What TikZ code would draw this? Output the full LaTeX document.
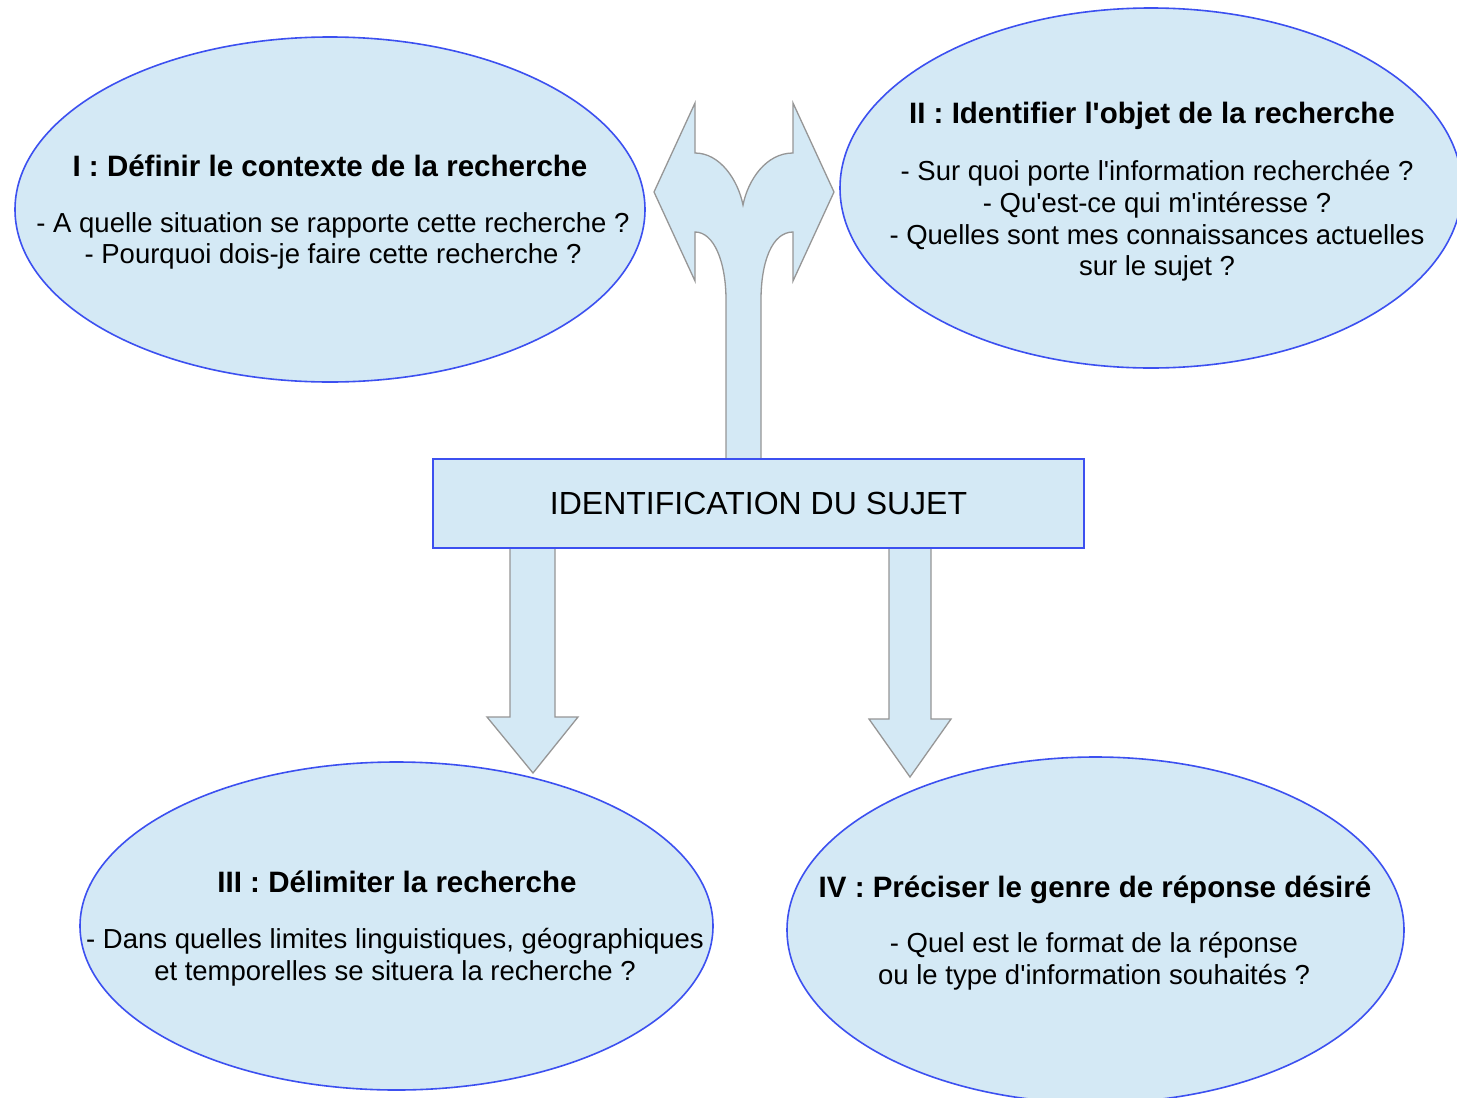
\documentclass[tikz,border=0pt]{standalone}
\usepackage{fontspec}
\setmainfont{Liberation Sans}
\usetikzlibrary{shapes.geometric}
\definecolor{fillblue}{RGB}{212,233,245}
\definecolor{edgeblue}{RGB}{60,80,240}
\definecolor{arrowgray}{RGB}{150,150,150}
\begin{document}
\begin{tikzpicture}[x=1pt,y=-1pt,
  bubble/.style={ellipse, draw=edgeblue, fill=fillblue, line width=1.6pt, inner sep=0pt},
  ttl/.style={font=\fontsize{29.5}{34}\selectfont\bfseries, align=center, inner sep=0pt},
  body/.style={font=\fontsize{27.5}{31.7}\selectfont, align=center, inner sep=0pt},
  blockarrow/.style={fill=fillblue, draw=arrowgray, line width=1.3pt, line join=miter}]
\clip (0,0) rectangle (1457,1098);
\fill[white] (0,0) rectangle (1457,1098);
% ellipses
\node[bubble, minimum width=630pt, minimum height=345pt] (e1) at (330,209.5) {};
\node[bubble, minimum width=622pt, minimum height=360pt] (e2) at (1151,188) {};
\node[bubble, minimum width=633pt, minimum height=328pt] (e3) at (396.5,926) {};
\node[bubble, minimum width=617pt, minimum height=346pt] (e4) at (1095.5,930) {};
% split arrow up
\draw[blockarrow] (726,459) -- (726,300) .. controls (726,262) and (714,232) .. (695,232)
  -- (695,281) -- (654,192) -- (695,103) -- (695,153)
  .. controls (720,153) and (738,180) .. (743,205)
  .. controls (748,180) and (766,153) .. (793,153)
  -- (793,103) -- (834,192) -- (793,281) -- (793,232)
  .. controls (772,232) and (761,262) .. (761,300) -- (761,459);
% down arrows
\draw[blockarrow] (510,548) -- (510,717) -- (487,717) -- (533,773) -- (578,717) -- (555,717) -- (555,548);
\draw[blockarrow] (889,548) -- (889,719) -- (869,719) -- (910,777) -- (951,719) -- (931,719) -- (931,548);
% central box
\node[draw=edgeblue, fill=fillblue, line width=1.4pt, minimum width=651pt, minimum height=89pt, inner sep=0pt, font=\fontsize{32}{36}\selectfont] (box) at (758.5,503.5) {IDENTIFICATION DU SUJET};
% texts
\node[ttl] (t1) at (330,165.5) {I : Définir le contexte de la recherche};
\node[body] (b1) at (333,241) {- A quelle situation se rapporte cette recherche ?\\- Pourquoi dois-je faire cette recherche ?};
\node[ttl] (t2) at (1152,116) {II : Identifier l\textquotesingle objet de la recherche};
\node[body] (b2) at (1157,221) {- Sur quoi porte l\textquotesingle information recherchée ?\\- Qu\textquotesingle est-ce qui m\textquotesingle intéresse ?\\- Quelles sont mes connaissances actuelles\\sur le sujet ?};
\node[ttl] (t3) at (397,881.5) {III : Délimiter la recherche};
\node[body] (b3) at (395,957.5) {- Dans quelles limites linguistiques, géographiques\\et temporelles se situera la recherche ?};
\node[ttl] (t4) at (1095,890) {IV : Préciser le genre de réponse désiré};
\node[body] (b4) at (1094,961) {- Quel est le format de la réponse\\ou le type d\textquotesingle information souhaités ?};
\end{tikzpicture}
\end{document}
